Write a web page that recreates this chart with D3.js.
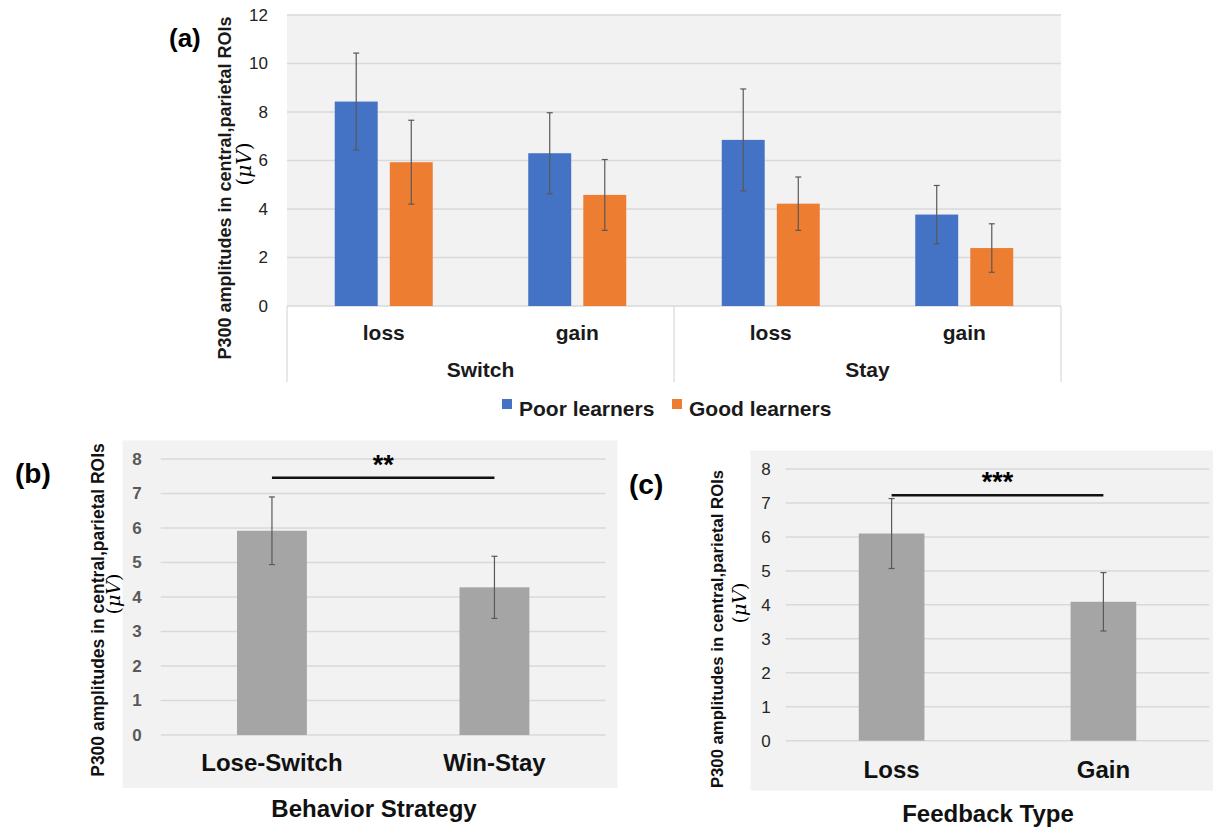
<!DOCTYPE html>
<html lang="en">
<head>
<meta charset="UTF-8">
<title>P300 amplitudes</title>
<script src="https://d3js.org/d3.v7.min.js"></script>
<style>
  body { margin: 0; background: #fff; }
  svg text { font-family: "Liberation Sans", Arial, sans-serif; }
</style>
</head>
<body>
<div id="chart"></div>
<script>
// ---- data, panel (a)
const groupsA = ["Switch", "Stay"];
const outcomesA = ["loss", "gain"];
const seriesA = ["Poor learners", "Good learners"];
const poorMeans = [8.43, 6.30, 6.85, 3.77];
const poorErrors = [2.0, 1.67, 2.1, 1.2];
const goodMeans = [5.93, 4.58, 4.22, 2.39];
const goodErrors = [1.73, 1.46, 1.1, 1.0];
const ticksA = [0, 2, 4, 6, 8, 10, 12];

// ---- data, panel (b)
const strategies = ["Lose-Switch", "Win-Stay"];
const strategyMeans = [5.92, 4.28];
const strategyErrors = [0.98, 0.9];

// ---- data, panel (c)
const feedbackTypes = ["Loss", "Gain"];
const feedbackMeans = [6.10, 4.09];
const feedbackErrors = [1.03, 0.86];

const ticksBC = [0, 1, 2, 3, 4, 5, 6, 7, 8];
const sigMarks = ["**", "***"];
const sigLevels = [7.46, 7.23];

const seriesColors = ["#4472C4", "#ED7D31"];
const yTitle = "P300 amplitudes in central,parietal ROIs";

const svg = d3.select("#chart").append("svg")
    .attr("width", 1213)
    .attr("height", 830);

// unit line "(μV)" with italic serif mu V
function unitLabel(g, x, y, size) {
    const t = g.append("text")
        .attr("transform", `translate(${x},${y}) rotate(-90)`)
        .attr("text-anchor", "middle")
        .attr("dominant-baseline", "central")
        .attr("font-size", size)
        .style("font-family", "'DejaVu Serif', 'Liberation Serif', serif");
    t.append("tspan").text("(");
    t.append("tspan").attr("font-style", "italic").text("μV");
    t.append("tspan").text(")");
}

function errorBar(g, cx, y, mean, err) {
    const cap = 3;
    g.append("line")
        .attr("x1", cx).attr("x2", cx)
        .attr("y1", y(mean - err)).attr("y2", y(mean + err))
        .attr("stroke", "#595959").attr("stroke-width", 1.2);
    [mean - err, mean + err].forEach(v => {
        g.append("line")
            .attr("x1", cx - cap).attr("x2", cx + cap)
            .attr("y1", y(v)).attr("y2", y(v))
            .attr("stroke", "#595959").attr("stroke-width", 1.2);
    });
}

// ================= panel (a) =================
const a = {left: 287, right: 1061, top: 15, bottom: 306};
const catKeys = groupsA.flatMap(g => outcomesA.map(o => g + "|" + o));

const x0 = d3.scaleBand().domain(catKeys).range([a.left, a.right]);
const xg = d3.scaleBand().domain(groupsA).range([a.left, a.right]);
const clusterW = 98;
const x1 = d3.scaleBand().domain(seriesA).range([0, clusterW]).paddingInner(0.22);
const yA = d3.scaleLinear().domain([0, 12]).range([a.bottom, a.top]);

const gA = svg.append("g");

gA.append("rect")
    .attr("x", a.left).attr("y", a.top)
    .attr("width", a.right - a.left).attr("height", a.bottom - a.top)
    .attr("fill", "#f2f2f2");

gA.selectAll(".grid")
    .data(ticksA)
    .join("line")
    .attr("class", "grid")
    .attr("x1", a.left).attr("x2", a.right)
    .attr("y1", d => yA(d)).attr("y2", d => yA(d))
    .attr("stroke", "#d9d9d9").attr("stroke-width", 1.5);

gA.append("g")
    .attr("transform", `translate(${a.left},0)`)
    .call(d3.axisLeft(yA).tickValues(ticksA).tickSize(0).tickPadding(19))
    .call(g => g.select(".domain").remove())
    .attr("font-size", 17)
    .attr("font-family", null)
    .attr("color", "#222");

// bars
const rowsA = [];
catKeys.forEach((k, i) => {
    rowsA.push({k, s: seriesA[0], mean: poorMeans[i], err: poorErrors[i], color: seriesColors[0]});
    rowsA.push({k, s: seriesA[1], mean: goodMeans[i], err: goodErrors[i], color: seriesColors[1]});
});
const barX = d => x0(d.k) + (x0.bandwidth() - clusterW) / 2 + x1(d.s);

gA.selectAll(".bar")
    .data(rowsA)
    .join("rect")
    .attr("class", "bar")
    .attr("x", barX)
    .attr("width", x1.bandwidth())
    .attr("y", d => yA(d.mean))
    .attr("height", d => yA(0) - yA(d.mean))
    .attr("fill", d => d.color);

rowsA.forEach(d => errorBar(gA, barX(d) + x1.bandwidth() / 2, yA, d.mean, d.err));

// multi-level category axis
const sepBottom = 382;
gA.selectAll(".sep")
    .data([...groupsA.map(g => xg(g)), a.right])
    .join("line")
    .attr("x1", d => d).attr("x2", d => d)
    .attr("y1", a.bottom).attr("y2", sepBottom)
    .attr("stroke", "#d9d9d9").attr("stroke-width", 1.2);

gA.selectAll(".outcome")
    .data(catKeys)
    .join("text")
    .attr("x", d => x0(d) + x0.bandwidth() / 2)
    .attr("y", 340)
    .attr("text-anchor", "middle")
    .attr("font-weight", "bold")
    .attr("font-size", 21)
    .attr("fill", "#1a1a1a")
    .text(d => d.split("|")[1]);

gA.selectAll(".group")
    .data(groupsA)
    .join("text")
    .attr("x", d => xg(d) + xg.bandwidth() / 2)
    .attr("y", 377)
    .attr("text-anchor", "middle")
    .attr("font-weight", "bold")
    .attr("font-size", 21)
    .attr("fill", "#1a1a1a")
    .text(d => d);

// legend
const legendX = [502, 672];
seriesA.forEach((s, i) => {
    gA.append("rect")
        .attr("x", legendX[i]).attr("y", 399)
        .attr("width", 10).attr("height", 10)
        .attr("fill", seriesColors[i]);
    gA.append("text")
        .attr("x", legendX[i] + 17).attr("y", 416)
        .attr("font-weight", "bold")
        .attr("font-size", 21)
        .attr("fill", "#1a1a1a")
        .text(s);
});

gA.append("text")
    .attr("transform", "translate(225,188) rotate(-90)")
    .attr("text-anchor", "middle")
    .attr("dominant-baseline", "central")
    .attr("font-weight", "bold")
    .attr("font-size", 18)
    .attr("fill", "#1a1a1a")
    .text(yTitle);
unitLabel(gA, 244, 164, 20);

gA.append("text")
    .attr("x", 169).attr("y", 47)
    .attr("font-weight", "bold")
    .attr("font-size", 26)
    .text("(a)");

// ================= panels (b) and (c) =================
function drawSimple(o) {
    const g = svg.append("g");
    g.append("rect")
        .attr("x", o.bg[0]).attr("y", o.bg[1])
        .attr("width", o.bg[2] - o.bg[0]).attr("height", o.bg[3] - o.bg[1])
        .attr("fill", "#f2f2f2");

    const x = d3.scaleBand().domain(o.cats).range([o.left, o.right]);
    const y = d3.scaleLinear().domain([0, 8]).range([o.zero, o.top]);
    const bw = x.bandwidth() * o.barFrac;

    g.selectAll(".grid")
        .data(ticksBC)
        .join("line")
        .attr("x1", o.left).attr("x2", o.right)
        .attr("y1", d => y(d)).attr("y2", d => y(d))
        .attr("stroke", "#d9d9d9").attr("stroke-width", 1.5);

    g.append("g")
        .attr("transform", `translate(${o.left},0)`)
        .call(d3.axisLeft(y).tickValues(ticksBC).tickSize(0).tickPadding(o.tickPad))
        .call(s => s.select(".domain").remove())
        .attr("font-size", 17)
        .attr("font-family", null)
        .attr("font-weight", o.tickBold ? "bold" : null)
        .attr("color", o.tickColor);

    const rows = o.cats.map((c, i) => ({c, mean: o.means[i], err: o.errors[i]}));
    g.selectAll(".bar")
        .data(rows)
        .join("rect")
        .attr("x", d => x(d.c) + (x.bandwidth() - bw) / 2)
        .attr("width", bw)
        .attr("y", d => y(d.mean))
        .attr("height", d => y(0) - y(d.mean))
        .attr("fill", "#a5a5a5");
    rows.forEach(d => errorBar(g, x(d.c) + x.bandwidth() / 2, y, d.mean, d.err));

    // significance bracket
    const c0 = x(o.cats[0]) + x.bandwidth() / 2;
    const c1 = x(o.cats[1]) + x.bandwidth() / 2;
    g.append("line")
        .attr("x1", c0).attr("x2", c1)
        .attr("y1", y(o.sigLevel)).attr("y2", y(o.sigLevel))
        .attr("stroke", "#111").attr("stroke-width", 2.5);
    g.append("text")
        .attr("x", (c0 + c1) / 2)
        .attr("y", y(o.sigLevel) - 4)
        .attr("text-anchor", "middle")
        .attr("font-weight", "bold")
        .attr("font-size", 27)
        .text(o.sig);

    g.selectAll(".cat")
        .data(o.cats)
        .join("text")
        .attr("x", d => x(d) + x.bandwidth() / 2)
        .attr("y", o.catY)
        .attr("text-anchor", "middle")
        .attr("font-weight", "bold")
        .attr("font-size", 24)
        .attr("fill", "#111")
        .text(d => d);

    g.append("text")
        .attr("x", o.titleX).attr("y", o.titleY)
        .attr("text-anchor", "middle")
        .attr("font-weight", "bold")
        .attr("font-size", 24)
        .attr("fill", "#111")
        .text(o.title);

    g.append("text")
        .attr("transform", `translate(${o.yt[0]},${o.yt[1]}) rotate(-90)`)
        .attr("text-anchor", "middle")
        .attr("dominant-baseline", "central")
        .attr("font-weight", "bold")
        .attr("font-size", o.ytSize)
        .attr("fill", "#111")
        .text(yTitle);
    unitLabel(g, o.unit[0], o.unit[1], 19);

    g.append("text")
        .attr("x", o.tag[0]).attr("y", o.tag[1])
        .attr("font-weight", "bold")
        .attr("font-size", 28)
        .text(o.tagText);
}

drawSimple({
    bg: [122.5, 440.5, 617.5, 788],
    left: 160.7, right: 605.7, top: 459, zero: 735,
    cats: strategies, means: strategyMeans, errors: strategyErrors,
    barFrac: 0.314, tickPad: 19, tickBold: true, tickColor: "#595959",
    sig: sigMarks[0], sigLevel: sigLevels[0],
    catY: 771, title: "Behavior Strategy", titleX: 374, titleY: 817,
    yt: [97.5, 610], ytSize: 17.5, unit: [113, 594],
    tag: [15, 483], tagText: "(b)"
});

drawSimple({
    bg: [750.5, 450.5, 1213, 790.7],
    left: 785.7, right: 1209.3, top: 469, zero: 740.7,
    cats: feedbackTypes, means: feedbackMeans, errors: feedbackErrors,
    barFrac: 0.31, tickPad: 15, tickBold: false, tickColor: "#262626",
    sig: sigMarks[1], sigLevel: sigLevels[1],
    catY: 778, title: "Feedback Type", titleX: 988, titleY: 822,
    yt: [717, 629], ytSize: 16.7, unit: [739, 603],
    tag: [629, 494], tagText: "(c)"
});
</script>
</body>
</html>
